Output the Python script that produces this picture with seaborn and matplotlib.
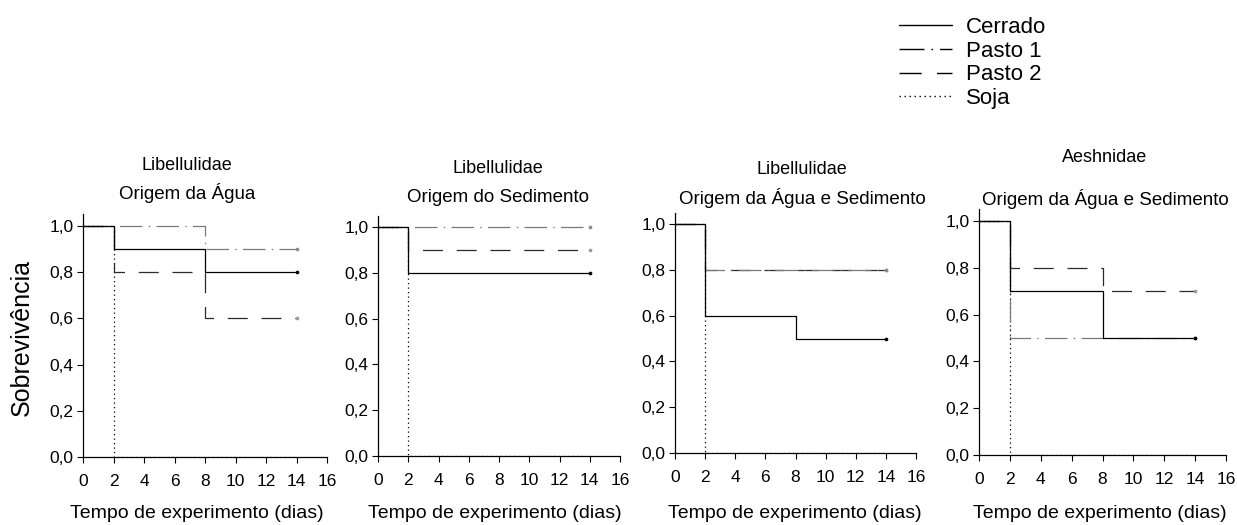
import numpy as np
import pandas as pd
import matplotlib
matplotlib.use("Agg")
import matplotlib.pyplot as plt
import seaborn as sns
from matplotlib.lines import Line2D

# Survival (proportion alive) at each observation day, step function
time_days = [0, 2, 8, 14]

agua_cerrado = [1.0, 0.9, 0.8, 0.8]
agua_pasto1 = [1.0, 1.0, 0.9, 0.9]
agua_pasto2 = [1.0, 0.8, 0.6, 0.6]
agua_soja = [1.0, 0.0, 0.0, 0.0]

sed_cerrado = [1.0, 0.8, 0.8, 0.8]
sed_pasto1 = [1.0, 1.0, 1.0, 1.0]
sed_pasto2 = [1.0, 0.9, 0.9, 0.9]
sed_soja = [1.0, 0.0, 0.0, 0.0]

ambos_lib_cerrado = [1.0, 0.6, 0.5, 0.5]
ambos_lib_pasto1 = [1.0, 0.8, 0.8, 0.8]
ambos_lib_pasto2 = [1.0, 0.8, 0.8, 0.8]
ambos_lib_soja = [1.0, 0.0, 0.0, 0.0]

ambos_aesh_cerrado = [1.0, 0.7, 0.5, 0.5]
ambos_aesh_pasto1 = [1.0, 0.5, 0.5, 0.5]
ambos_aesh_pasto2 = [1.0, 0.8, 0.7, 0.7]
ambos_aesh_soja = [1.0, 0.0, 0.0, 0.0]

treatments = ["Cerrado", "Pasto 1", "Pasto 2", "Soja"]
panel_families = ["Libellulidae", "Libellulidae", "Libellulidae", "Aeshnidae"]
panel_origins = ["Origem da Água", "Origem do Sedimento",
                 "Origem da Água e Sedimento", "Origem da Água e Sedimento"]
x_ticks = [0, 2, 4, 6, 8, 10, 12, 14, 16]
y_ticks = [0.0, 0.2, 0.4, 0.6, 0.8, 1.0]
y_tick_labels = ["0,0", "0,2", "0,4", "0,6", "0,8", "1,0"]

panel_series = [
    [agua_cerrado, agua_pasto1, agua_pasto2, agua_soja],
    [sed_cerrado, sed_pasto1, sed_pasto2, sed_soja],
    [ambos_lib_cerrado, ambos_lib_pasto1, ambos_lib_pasto2, ambos_lib_soja],
    [ambos_aesh_cerrado, ambos_aesh_pasto1, ambos_aesh_pasto2, ambos_aesh_soja],
]

sns.set_style("ticks")
plt.rcParams["font.family"] = ["Liberation Sans", "DejaVu Sans"]
plt.rcParams["text.color"] = "black"
plt.rcParams["xtick.color"] = "black"
plt.rcParams["ytick.color"] = "black"
plt.rcParams["axes.edgecolor"] = "black"

W, H = 1237, 525
fig = plt.figure(figsize=(W / 100, H / 100), dpi=100)

lw = 0.9
styles = {
    "Cerrado": dict(color="black", linestyle="-"),
    "Pasto 1": dict(color="#7a7a7a", linestyle=(0, (18, 5, 1.2, 5))),
    "Pasto 2": dict(color="#2a2a2a", linestyle=(0, (16, 11))),
    "Soja": dict(color="black", linestyle=(0, (1, 2.6))),
}
end_colors = {"Cerrado": "black", "Pasto 1": "#8a8a8a", "Pasto 2": "#9a9a9a"}

# axes boxes in pixels: left, x_at_16, y_at_0, y_at_1
boxes = [(83, 327, 457, 226), (378, 620, 456, 227),
         (675, 916, 453, 224), (979, 1226, 455, 221)]
title_pos = [(187, 165, 193), (498, 168, 197), (802, 170, 198), (1105, 158, 199)]
xlabel_pos = [197, 495, 795, 1100]

for i, (box, series) in enumerate(zip(boxes, panel_series)):
    x0, x1, yb, y1 = box
    ytop = y1 - 0.05 * (yb - y1)
    ax = fig.add_axes([x0 / W, 1 - yb / H, (x1 - x0) / W, (yb - ytop) / H])
    df = pd.DataFrame({"dia": time_days * 4,
                       "sobrevivencia": sum(series, []),
                       "tratamento": np.repeat(treatments, len(time_days))})
    for name in treatments[::-1]:
        sub = df[df["tratamento"] == name]
        sns.lineplot(data=sub, x="dia", y="sobrevivencia", ax=ax,
                     drawstyle="steps-post", linewidth=lw, legend=False,
                     **styles[name])
        if name != "Soja":
            last = sub.iloc[[-1]]
            sns.scatterplot(data=last, x="dia", y="sobrevivencia", ax=ax,
                            color=end_colors[name], s=7, linewidth=0,
                            zorder=3, legend=False)
    ax.set_xlim(0, 16)
    ax.set_ylim(0, 1.05)
    ax.set_xticks(x_ticks)
    ax.set_xticklabels([str(t) for t in x_ticks])
    ax.set_yticks(y_ticks)
    ax.set_yticklabels(y_tick_labels)
    ax.tick_params(axis="both", labelsize=12.5, length=4, width=0.8,
                   direction="out", colors="black", pad=3)
    ax.tick_params(axis="x", pad=8)
    for s in ["top", "right"]:
        ax.spines[s].set_visible(False)
    for s in ["left", "bottom"]:
        ax.spines[s].set_linewidth(0.9)
        ax.spines[s].set_color("black")
    ax.set_xlabel("")
    ax.set_ylabel("")
    ax.patch.set_alpha(0)

    tx, ty1, ty2 = title_pos[i]
    fig.text(tx / W, 1 - ty1 / H, panel_families[i], ha="center", va="center",
             fontsize=13)
    fig.text(tx / W, 1 - ty2 / H, panel_origins[i], ha="center", va="center",
             fontsize=13.5)
    fig.text(xlabel_pos[i] / W, 1 - 514 / H, "Tempo de experimento (dias)",
             ha="center", va="center", fontsize=14)

fig.text(22 / W, 1 - 338 / H, "Sobrevivência", rotation=90, ha="center",
         va="center", fontsize=18)

handles = [Line2D([], [], linewidth=1.0, color="black",
                  linestyle=styles[n]["linestyle"]) for n in treatments]
fig.legend(handles, treatments, loc="upper left",
           bbox_to_anchor=(899 / W, 1 - 17 / H), frameon=False, fontsize=16,
           handlelength=2.4, handletextpad=0.6, labelspacing=0.12,
           borderpad=0, borderaxespad=0)

fig.savefig("out.png", dpi=100)
